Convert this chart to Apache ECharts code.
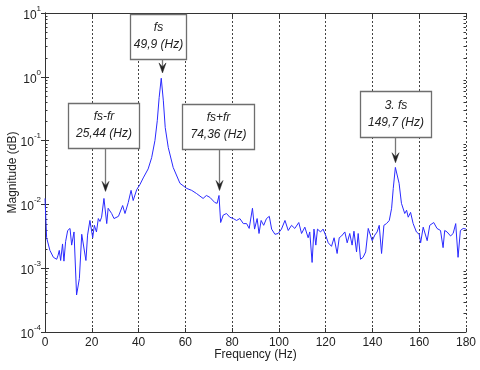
<!DOCTYPE html>
<html>
<head>
<meta charset="utf-8">
<script src="https://cdn.jsdelivr.net/npm/echarts@6/dist/echarts.min.js"></script>
<style>
  html, body { margin: 0; padding: 0; background: #fff; }
  #chart { width: 480px; height: 370px; }
</style>
</head>
<body>
<div id="chart"></div>
<script>
// spectrum
const freq = [
  0, 0.7, 2.1, 3.6, 5.0, 5.6, 6.1, 6.7, 7.5, 8.1, 8.8, 9.7, 10.7, 11.4, 12.4, 13.5, 14.7, 15.7, 16.4, 17.5,
  18.2, 19.2, 20.4, 21.1, 22.0, 22.8, 23.5, 24.2, 25.2, 26.4, 27.0, 28.5, 29.5, 31.4, 33.2, 34.2, 35.6, 36.8, 37.7, 39.2,
  40.6, 42.0, 44.1, 45.6, 47.0, 48.0, 48.8, 49.7, 50.6, 51.4, 52.7, 54.8, 57.7, 60.6, 62.7, 64.8, 67.6, 69.0, 70.5, 72.6,
  73.6, 74.4, 75.1, 76.2, 77.6, 79.0, 80.5, 81.9, 83.3, 84.8, 86.2, 87.3, 88.7, 89.6, 90.7, 91.5, 92.4, 93.5, 94.7, 95.9,
  96.9, 98.3, 99.7, 101.1, 102.6, 104.0, 105.4, 106.8, 108.5, 109.7, 111.1, 112.5, 113.2, 114.2, 115.0, 115.8, 116.5, 117.8, 118.9, 120.1,
  121.1, 122.5, 123.6, 124.9, 125.8, 126.8, 128.2, 129.2, 130.3, 131.3, 132.1, 133.2, 133.9, 134.9, 136.0, 137.1, 138.2, 138.9, 139.9, 141.0,
  142.0, 142.9, 143.9, 144.9, 146.0, 147.2, 148.2, 148.9, 149.8, 150.2, 151.4, 152.4, 153.8, 154.6, 155.3, 156.3, 157.4, 158.8, 160.0, 160.6,
  161.7, 163.4, 164.5, 166.2, 167.6, 169.1, 170.2, 170.9, 171.9, 173.4, 174.5, 175.6, 176.6, 177.6, 178.8, 180
];
const mag = [
  0.0124, 0.0030, 0.0019, 0.00148, 0.00138, 0.0016, 0.0019, 0.00132, 0.0024, 0.00129, 0.0026, 0.0039, 0.0042, 0.0023, 0.0037, 0.00038, 0.00069, 0.0034, 0.0033, 0.00132,
  0.0033, 0.0056, 0.0030, 0.0047, 0.0037, 0.0060, 0.0054, 0.0063, 0.0124, 0.0050, 0.0087, 0.0072, 0.0060, 0.0065, 0.0096, 0.0072, 0.0107, 0.0166, 0.0115, 0.017,
  0.0205, 0.026, 0.036, 0.054, 0.100, 0.205, 0.47, 0.95, 0.42, 0.16, 0.078, 0.038, 0.0214, 0.0178, 0.0166, 0.0148, 0.0124, 0.0138, 0.0129, 0.0107,
  0.0104, 0.0138, 0.0052, 0.0068, 0.0072, 0.0063, 0.0060, 0.0056, 0.0060, 0.0050, 0.0050, 0.0042, 0.0087, 0.0041, 0.0060, 0.0035, 0.0056, 0.0047, 0.0060, 0.0065,
  0.0041, 0.0034, 0.0035, 0.0041, 0.0056, 0.0039, 0.0047, 0.0042, 0.0052, 0.0035, 0.0044, 0.0030, 0.0037, 0.00123, 0.0041, 0.0023, 0.0041, 0.0037, 0.0041, 0.0032,
  0.0025, 0.0022, 0.0030, 0.0017, 0.0030, 0.0032, 0.0037, 0.0025, 0.0035, 0.0023, 0.0038, 0.0018, 0.0035, 0.00138, 0.00148, 0.0018, 0.0042, 0.0044, 0.0027, 0.0033,
  0.0037, 0.0047, 0.0017, 0.0047, 0.0050, 0.0056, 0.0087, 0.0178, 0.038, 0.039, 0.0214, 0.0104, 0.0072, 0.0081, 0.0063, 0.0075, 0.0050, 0.0037, 0.0034, 0.0025,
  0.0044, 0.0027, 0.0047, 0.0052, 0.0042, 0.0039, 0.0021, 0.0039, 0.0037, 0.0032, 0.0035, 0.0050, 0.00148, 0.0039, 0.0042, 0.0041
];

const xTicks = [0, 20, 40, 60, 80, 100, 120, 140, 160, 180];

// annotations
const peakNames = ['fs', 'fs-fr', 'fs+fr', '3. fs'];
const peakLabels = ['49,9 (Hz)', '25,44 (Hz)', '74,36 (Hz)', '149,7 (Hz)'];
const peakFreq = [49.9, 25.44, 74.36, 149.7];
const peakArrowTip = [1.15, 0.016, 0.0165, 0.045];
// box width, gap box->arrow tip, box height, horizontal shift (px)
const boxLayout = [
  { w: 56, gap: 14, h: 45, dx: -4 },
  { w: 71, gap: 43, h: 45, dx: -1.5 },
  { w: 72, gap: 42, h: 45, dx: -1 },
  { w: 71, gap: 26, h: 46, dx: 0 },
];

const FONT = "'Liberation Sans', Arial, sans-serif";
const chart = echarts.init(document.getElementById('chart'));

chart.setOption({
  animation: false,
  grid: { left: 45, right: 14, top: 13, bottom: 38, containLabel: false, outerBoundsMode: 'none' },
  xAxis: [
    {
      type: 'value',
      min: xTicks[0],
      max: xTicks[xTicks.length - 1],
      interval: 20,
      name: 'Frequency (Hz)',
      nameLocation: 'middle',
      nameGap: 17,
      nameMoveOverlap: false,
      nameTextStyle: { fontFamily: FONT, fontSize: 12, color: '#222' },
      axisLine: { show: true, lineStyle: { color: '#333', width: 1 } },
      axisTick: { show: true, inside: true, length: 4, lineStyle: { color: '#333' } },
      axisLabel: { fontFamily: FONT, fontSize: 12, color: '#222', margin: 5 },
      splitLine: { show: true, lineStyle: { type: [2, 2], color: '#444', width: 1 } },
    },
    {
      type: 'value',
      position: 'top',
      min: xTicks[0],
      max: xTicks[xTicks.length - 1],
      interval: 20,
      axisLine: { show: true, lineStyle: { color: '#333', width: 1 } },
      axisTick: { show: true, inside: true, length: 4, lineStyle: { color: '#333' } },
      axisLabel: { show: false },
      splitLine: { show: false },
    },
  ],
  yAxis: [
    {
      type: 'log',
      logBase: 10,
      min: 1e-4,
      max: 10,
      name: 'Magnitude (dB)',
      nameLocation: 'middle',
      nameGap: 26,
      nameMoveOverlap: false,
      nameTextStyle: { fontFamily: FONT, fontSize: 12, color: '#222' },
      axisLine: { show: true, lineStyle: { color: '#333', width: 1 } },
      axisTick: { show: true, inside: true, length: 4, lineStyle: { color: '#333' } },
      axisLabel: {
        margin: 4,
        formatter: (v) => '{b|10}{s|' + Math.round(Math.log10(v)) + '}',
        rich: {
          b: { fontFamily: FONT, fontSize: 12, color: '#222', lineHeight: 17, verticalAlign: 'bottom' },
          s: { fontFamily: FONT, fontSize: 8, color: '#222', lineHeight: 17, verticalAlign: 'top' },
        },
      },
      splitLine: { show: false },
    },
    {
      type: 'log',
      logBase: 10,
      min: 1e-4,
      max: 10,
      position: 'right',
      axisLine: { show: true, lineStyle: { color: '#333', width: 1 } },
      axisTick: { show: true, inside: true, length: 4, lineStyle: { color: '#333' } },
      axisLabel: { show: false },
      splitLine: { show: false },
    },
  ],
  series: [
    {
      type: 'line',
      xAxisIndex: 0,
      yAxisIndex: 0,
      data: freq.map((f, i) => [f, mag[i]]),
      showSymbol: false,
      lineStyle: { color: '#2a2aff', width: 1 },
      z: 3,
    },
  ],
});

// log minor ticks + annotation boxes
const graphics = [];
const xLeft = chart.convertToPixel({ xAxisIndex: 0 }, xTicks[0]);
const xRight = chart.convertToPixel({ xAxisIndex: 0 }, xTicks[xTicks.length - 1]);
for (let n = -4; n < 1; n++) {
  for (let k = 2; k < 10; k++) {
    const y = Math.round(chart.convertToPixel({ yAxisIndex: 0 }, k * Math.pow(10, n))) + 0.5;
    graphics.push({ type: 'line', silent: true, shape: { x1: xLeft, y1: y, x2: xLeft + 2.5, y2: y }, style: { stroke: '#333', lineWidth: 1 } });
    graphics.push({ type: 'line', silent: true, shape: { x1: xRight - 2.5, y1: y, x2: xRight, y2: y }, style: { stroke: '#333', lineWidth: 1 } });
  }
}

peakFreq.forEach((f, i) => {
  const [px, py] = chart.convertToPixel({ gridIndex: 0 }, [f, peakArrowTip[i]]);
  const L = boxLayout[i];
  const bx = Math.round(px + L.dx - L.w / 2) + 0.5;
  const by = Math.round(py - L.gap - L.h) + 0.5;
  const cx = bx + L.w / 2;
  const ax = Math.round(px) + 0.5;
  graphics.push({
    type: 'rect', z: 10,
    shape: { x: bx, y: by, width: L.w, height: L.h },
    style: { fill: '#fff', stroke: '#6e6e6e', lineWidth: 1.3 },
  });
  graphics.push({
    type: 'text', z: 11,
    style: { text: peakNames[i], x: cx, y: by + L.h / 2 - 9, font: 'italic 12px ' + FONT, fill: '#222', align: 'center', verticalAlign: 'middle', textAlign: 'center', textVerticalAlign: 'middle' },
  });
  graphics.push({
    type: 'text', z: 11,
    style: { text: peakLabels[i], x: cx, y: by + L.h / 2 + 8, font: 'italic 12px ' + FONT, fill: '#222', align: 'center', verticalAlign: 'middle', textAlign: 'center', textVerticalAlign: 'middle' },
  });
  graphics.push({
    type: 'line', z: 10,
    shape: { x1: ax, y1: by + L.h, x2: ax, y2: py - 4 },
    style: { stroke: '#777', lineWidth: 1.3 },
  });
  graphics.push({
    type: 'polygon', z: 10,
    shape: { points: [[ax, py], [ax - 3.5, py - 10], [ax, py - 6], [ax + 3.5, py - 10]] },
    style: { fill: '#222', stroke: '#222', lineWidth: 0.5 },
  });
});

chart.setOption({ graphic: graphics });
</script>
</body>
</html>
